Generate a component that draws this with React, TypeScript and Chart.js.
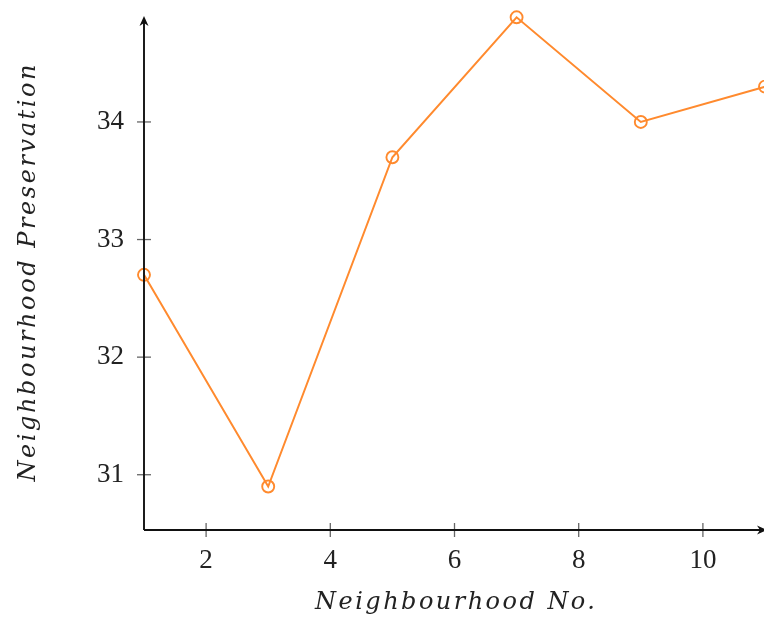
import React, { useEffect, useRef } from "react";
import { Chart, registerables } from "chart.js";

Chart.register(...registerables);

const X_VALUES = [1, 3, 5, 7, 9, 11];
const Y_VALUES = [32.7, 30.9, 33.7, 34.89, 34.0, 34.3];
const X_TICKS = [2, 4, 6, 8, 10];
const Y_TICKS = [31, 32, 33, 34];
const X_TITLE = "Neighbourhood No.";
const Y_TITLE = "Neighbourhood Preservation";

const SERIF = "'Liberation Serif', 'DejaVu Serif', serif";
const TITLE_FONT = "'DejaVu Serif', 'Liberation Serif', serif";

function spacedText(ctx: any, text: string, target: number) {
  ctx.letterSpacing = "0px";
  const w0 = ctx.measureText(text).width;
  const sp = Math.max(0, (target - w0) / (text.length - 1));
  ctx.letterSpacing = sp + "px";
  const w = ctx.measureText(text).width - sp;
  return w;
}

const axisPlugin = {
  id: "texAxes",
  afterDraw(chart: any) {
    const { ctx, chartArea } = chart;
    const { left, right, top, bottom } = chartArea;
    const xs = chart.scales.x;
    const ys = chart.scales.y;
    ctx.save();
    // ticks
    ctx.strokeStyle = "#666";
    ctx.lineWidth = 1.3;
    const tl = 7;
    xs.ticks.forEach((t: any) => {
      const px = xs.getPixelForValue(t.value);
      ctx.beginPath();
      ctx.moveTo(px, bottom - tl);
      ctx.lineTo(px, bottom + tl);
      ctx.stroke();
    });
    ys.ticks.forEach((t: any) => {
      const py = ys.getPixelForValue(t.value);
      ctx.beginPath();
      ctx.moveTo(left - tl, py);
      ctx.lineTo(left + tl, py);
      ctx.stroke();
    });
    // axes
    ctx.strokeStyle = "#111";
    ctx.fillStyle = "#111";
    ctx.lineWidth = 1.9;
    ctx.beginPath();
    ctx.moveTo(left, bottom);
    ctx.lineTo(left, top + 2);
    ctx.moveTo(left, bottom);
    ctx.lineTo(right - 2, bottom);
    ctx.stroke();
    // arrowheads
    ctx.beginPath();
    ctx.moveTo(left, top - 2);
    ctx.lineTo(left - 4.5, top + 8);
    ctx.lineTo(left, top + 5);
    ctx.lineTo(left + 4.5, top + 8);
    ctx.closePath();
    ctx.fill();
    ctx.beginPath();
    ctx.moveTo(right + 2, bottom);
    ctx.lineTo(right - 8, bottom - 4.5);
    ctx.lineTo(right - 5, bottom);
    ctx.lineTo(right - 8, bottom + 4.5);
    ctx.closePath();
    ctx.fill();

    // axis titles
    ctx.fillStyle = "#222";
    ctx.font = "italic 24px " + TITLE_FONT;
    ctx.textBaseline = "alphabetic";
    ctx.textAlign = "left";
    let w = spacedText(ctx, X_TITLE, 280);
    ctx.fillText(X_TITLE, 455 - w / 2, 609);
    ctx.save();
    ctx.translate(35, 273);
    ctx.rotate(-Math.PI / 2);
    w = spacedText(ctx, Y_TITLE, 417);
    ctx.fillText(Y_TITLE, -w / 2, 0);
    ctx.restore();
    ctx.restore();
  },
};

export default function App() {
  const ref = useRef<HTMLCanvasElement>(null);
  useEffect(() => {
    if (!ref.current) return;
    const chart = new Chart(ref.current, {
      type: "line",
      data: {
        datasets: [
          {
            data: X_VALUES.map((x, i) => ({ x, y: Y_VALUES[i] })),
            borderColor: "#ff8a2e",
            backgroundColor: "rgba(0,0,0,0)",
            borderWidth: 2,
            pointRadius: 6,
            pointBorderWidth: 1.9,
            pointBackgroundColor: "rgba(0,0,0,0)",
            pointBorderColor: "#ff8a2e",
            tension: 0,
            clip: false as any,
          },
        ],
      },
      options: {
        responsive: false,
        animation: false,
        layout: { padding: { top: 18, right: 15, left: 0, bottom: 0 } },
        plugins: { legend: { display: false }, tooltip: { enabled: false } },
        scales: {
          x: {
            type: "linear",
            min: 1,
            max: 11,
            grid: { display: false, drawTicks: false },
            border: { display: false },
            afterBuildTicks: (s: any) => {
              s.ticks = X_TICKS.map((v) => ({ value: v }));
            },
            afterFit: (s: any) => {
              s.height = 87;
              s.paddingLeft = 0;
              s.paddingRight = 0;
            },
            ticks: {
              padding: 15,
              color: "#222",
              font: { family: SERIF, size: 27 },
              callback: (v: any) => String(v),
            },
          },
          y: {
            type: "linear",
            min: 30.53,
            max: 34.884,
            grid: { display: false, drawTicks: false },
            border: { display: false },
            afterBuildTicks: (s: any) => {
              s.ticks = Y_TICKS.map((v) => ({ value: v }));
            },
            afterFit: (s: any) => {
              s.width = 144;
              s.paddingTop = 0;
              s.paddingBottom = 0;
            },
            ticks: {
              padding: 20,
              color: "#222",
              font: { family: SERIF, size: 27 },
              callback: (v: any) => String(v),
            },
          },
        },
      },
      plugins: [axisPlugin],
    });
    return () => chart.destroy();
  }, []);
  return (
    <div style={{ position: "fixed", left: 0, top: 0, width: 764, height: 617, overflow: "hidden", background: "#fff" }}>
      <canvas ref={ref} width={780} height={617} style={{ display: "block" }} />
    </div>
  );
}
